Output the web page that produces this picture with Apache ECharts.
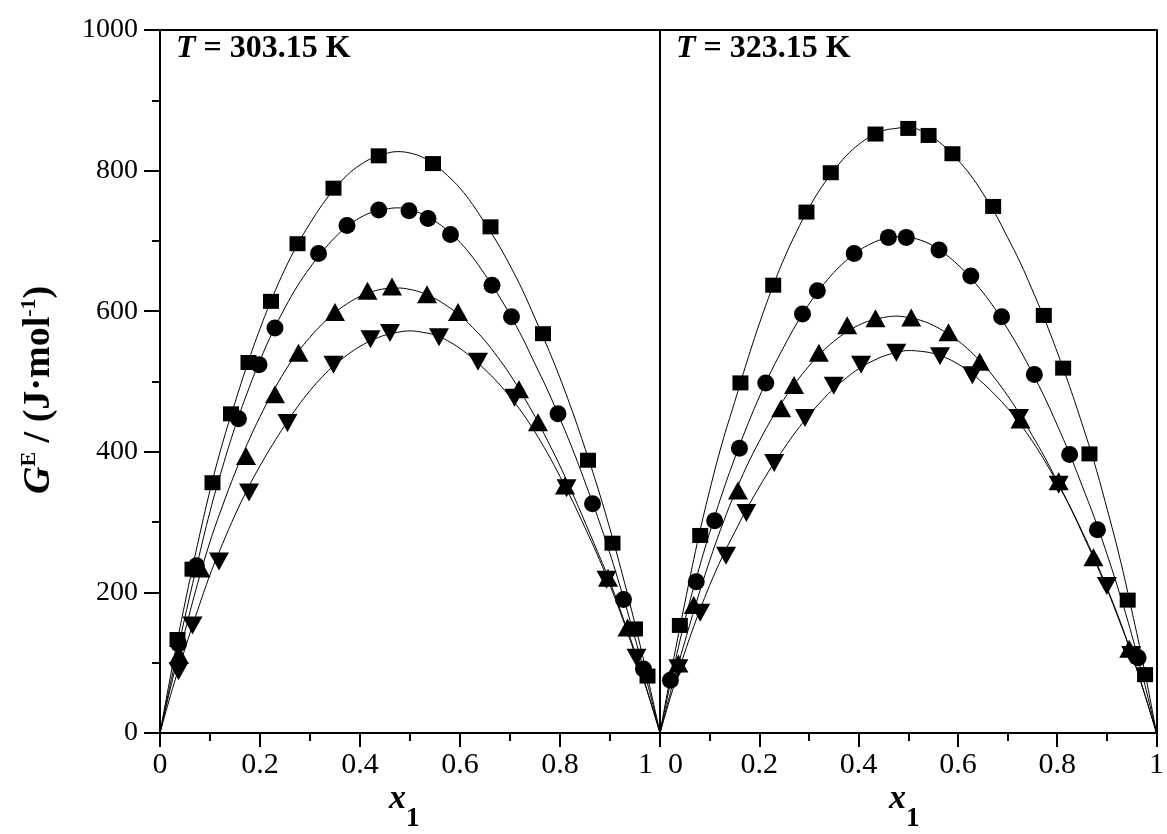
<!DOCTYPE html>
<html lang="en">
<head>
    <meta charset="UTF-8">
    <script src="https://cdn.jsdelivr.net/npm/echarts/dist/echarts.min.js"></script>
    <style>
        *{
            margin: 0;
            padding: 0;
        }
        #chart {
            width: 1167px;
            height: 834px;
            background: #fff;
        }
    </style>
</head>
<body>
<div id="chart"></div>
<script>
    var xFit = [0, 0.025, 0.05, 0.075, 0.1, 0.125, 0.15, 0.175, 0.2, 0.225,
                0.25, 0.275, 0.3, 0.325, 0.35, 0.375, 0.4, 0.425, 0.45, 0.475,
                0.5, 0.525, 0.55, 0.575, 0.6, 0.625, 0.65, 0.675, 0.7, 0.725,
                0.75, 0.775, 0.8, 0.825, 0.85, 0.875, 0.9, 0.925, 0.95, 0.975, 1];

    // T = 303.15 K, fitted curves
    var fitSq303 = [0, 96, 185, 268, 345, 412, 470, 525, 575, 620, 660, 695, 725, 752, 775, 794, 808, 818, 824, 827,
                    825, 819, 808, 793, 775, 752, 725, 697, 665, 630, 590, 549, 505, 457, 405, 350, 290, 225, 155, 80, 0];
    var fitCi303 = [0, 84, 165, 242, 315, 378, 435, 485, 530, 570, 605, 636, 662, 685, 705, 721, 733, 741, 745, 747,
                    744, 738, 728, 715, 698, 677, 652, 625, 595, 562, 525, 488, 447, 404, 357, 308, 255, 197, 135, 70, 0];
    var fitTu303 = [0, 76, 145, 212, 272, 323, 370, 412, 450, 484, 515, 541, 563, 582, 598, 611, 621, 628, 632, 633,
                    631, 626, 618, 607, 594, 577, 558, 535, 510, 481, 450, 416, 380, 341, 300, 258, 215, 166, 115, 59, 0];
    var fitTd303 = [0, 63, 120, 174, 225, 269, 310, 347, 380, 410, 438, 464, 487, 507, 524, 538, 550, 559, 566, 570,
                    572, 570, 566, 558, 547, 533, 517, 499, 478, 455, 428, 398, 365, 330, 292, 253, 210, 163, 112, 58, 0];

    // T = 303.15 K, measured points
    var sq303X = [0.035, 0.065, 0.105, 0.142, 0.177, 0.222, 0.275, 0.347, 0.4375, 0.546, 0.661, 0.766, 0.856, 0.905, 0.95, 0.975];
    var sq303Y = [133, 233, 356, 454, 527, 614, 696, 775, 821, 810, 720, 568, 388, 270, 148, 81];
    var ci303X = [0.037, 0.073, 0.157, 0.198, 0.23, 0.317, 0.374, 0.4375, 0.498, 0.536, 0.581, 0.664, 0.703, 0.796, 0.865, 0.927, 0.967];
    var ci303Y = [127, 238, 447, 524, 576, 682, 722, 744, 743, 732, 709, 637, 592, 454, 326, 190, 91];
    var tu303X = [0.038, 0.081, 0.172, 0.23, 0.277, 0.35, 0.415, 0.464, 0.534, 0.596, 0.718, 0.756, 0.81, 0.896, 0.935];
    var tu303Y = [111, 234, 394, 482, 541, 599, 629, 635, 624, 599, 489, 442, 352, 221, 150];
    var td303X = [0.037, 0.065, 0.118, 0.178, 0.255, 0.347, 0.421, 0.46, 0.558, 0.636, 0.709, 0.813, 0.893, 0.953];
    var td303Y = [88, 153, 244, 342, 441, 524, 560, 569, 563, 528, 477, 348, 218, 107];

    // T = 323.15 K, fitted curves
    var fitSq323 = [0, 96, 185, 270, 345, 412, 470, 528, 582, 631, 675, 713, 747, 776, 800, 821, 837, 849, 857, 860,
                    862, 857, 847, 833, 815, 794, 768, 739, 705, 670, 630, 588, 542, 493, 440, 384, 320, 252, 175, 92, 0];
    var fitCi323 = [0, 84, 160, 225, 285, 340, 390, 436, 478, 516, 550, 582, 610, 634, 655, 672, 686, 696, 703, 706,
                    705, 701, 693, 681, 666, 648, 627, 603, 575, 545, 512, 477, 438, 397, 352, 306, 255, 200, 140, 73, 0];
    var fitTu323 = [0, 68, 130, 190, 245, 295, 340, 380, 415, 447, 475, 500, 522, 541, 557, 570, 580, 587, 591, 593,
                    591, 587, 580, 570, 558, 543, 525, 504, 480, 453, 423, 392, 358, 323, 285, 246, 205, 160, 112, 58, 0];
    var fitTd323 = [0, 60, 115, 165, 210, 250, 285, 319, 350, 379, 405, 430, 452, 472, 490, 505, 518, 528, 536, 541,
                    544, 543, 540, 534, 525, 513, 498, 481, 462, 440, 415, 387, 356, 323, 287, 249, 207, 162, 112, 58, 0];

    // T = 323.15 K, measured points
    var sq323X = [0.04, 0.081, 0.162, 0.228, 0.295, 0.344, 0.434, 0.5, 0.541, 0.589, 0.671, 0.773, 0.812, 0.865, 0.942, 0.977];
    var sq323Y = [153, 281, 498, 637, 741, 797, 852, 860, 850, 824, 749, 594, 519, 397, 189, 83];
    var ci323X = [0.021, 0.073, 0.11, 0.16, 0.213, 0.287, 0.317, 0.391, 0.46, 0.496, 0.562, 0.626, 0.688, 0.754, 0.825, 0.881, 0.963];
    var ci323Y = [75, 215, 302, 405, 498, 596, 629, 682, 705, 705, 687, 650, 592, 510, 396, 289, 107];
    var tu323X = [0.037, 0.068, 0.157, 0.244, 0.27, 0.32, 0.377, 0.434, 0.506, 0.581, 0.644, 0.726, 0.803, 0.873, 0.945];
    var tu323Y = [99, 182, 345, 462, 495, 541, 580, 590, 591, 570, 528, 446, 358, 250, 120];
    var td323X = [0.037, 0.081, 0.133, 0.174, 0.23, 0.292, 0.35, 0.405, 0.476, 0.564, 0.629, 0.723, 0.803, 0.9, 0.949];
    var td323Y = [92, 171, 252, 313, 384, 448, 494, 524, 541, 536, 509, 448, 353, 209, 111];

    var xTicks = [0, 0.2, 0.4, 0.6, 0.8, 1];
    var yTicks = [0, 200, 400, 600, 800, 1000];

    var FONT = '"Liberation Serif", "DejaVu Serif", serif';
    var lineStyle = {color: '#000', width: 2};

    function pairs(xs, ys) {
        var out = [];
        for (var i = 0; i < xs.length; i++) {
            out.push([xs[i], ys[i]]);
        }
        return out;
    }

    // bottom x axis with ticks and labels
    function bottomX(grid) {
        return {
            type: 'value', gridIndex: grid, position: 'bottom',
            min: xTicks[0], max: xTicks[xTicks.length - 1], interval: 0.2,
            axisLine: {lineStyle: lineStyle},
            axisTick: {length: 14, lineStyle: lineStyle},
            minorTick: {show: true, splitNumber: 2, length: 8, lineStyle: lineStyle},
            axisLabel: {
                color: '#000', fontFamily: FONT, fontSize: 30, margin: 17,
                showMinLabel: true, showMaxLabel: true,
                alignMinLabel: grid == 1 ? 'left' : 'center',
                alignMaxLabel: grid == 0 ? 'right' : 'center',
                // the "1 0" pair where the panels meet is pushed apart
                formatter: function (v) {
                    if (grid == 0 && v == 1) return '{r|1}';
                    if (grid == 1 && v == 0) return '{l|0}';
                    return String(v);
                },
                rich: {
                    r: {fontFamily: FONT, fontSize: 30, color: '#000', padding: [0, 7, 0, 0]},
                    l: {fontFamily: FONT, fontSize: 30, color: '#000', padding: [0, 0, 0, 8]}
                }
            },
            splitLine: {show: false}
        };
    }
    // plain frame line
    function frame(grid, pos, isY) {
        return {
            type: 'value', gridIndex: grid, position: pos,
            min: 0, max: isY ? 1000 : 1,
            axisLine: {onZero: false, lineStyle: lineStyle},
            axisTick: {show: false},
            axisLabel: {show: false},
            splitLine: {show: false}
        };
    }

    var yLeft = {
        type: 'value', gridIndex: 0, position: 'left',
        min: yTicks[0], max: yTicks[yTicks.length - 1], interval: 200,
        axisLine: {lineStyle: lineStyle},
        axisTick: {length: 14, lineStyle: lineStyle},
        minorTick: {show: true, splitNumber: 2, length: 8, lineStyle: lineStyle},
        axisLabel: {
            color: '#000', fontFamily: FONT, fontSize: 28, margin: 22,
            formatter: function (v) { return String(v); }
        },
        splitLine: {show: false}
    };
    // ticks pointing in on the right edge of the first panel
    var yRightIn = {
        type: 'value', gridIndex: 0, position: 'right',
        min: 0, max: 1000, interval: 200,
        axisLine: {lineStyle: lineStyle},
        axisTick: {inside: true, length: 16, lineStyle: lineStyle},
        minorTick: {show: true, splitNumber: 2, length: 8, lineStyle: lineStyle},
        axisLabel: {show: false},
        splitLine: {show: false}
    };

    function fitSeries(xi, yi, ys) {
        return {
            type: 'line', xAxisIndex: xi, yAxisIndex: yi,
            data: pairs(xFit, ys), smooth: 0.4, showSymbol: false,
            lineStyle: {color: '#000', width: 1}, z: 2
        };
    }
    function pointSeries(xi, yi, xs, ys, symbol, size, rot) {
        return {
            type: 'scatter', xAxisIndex: xi, yAxisIndex: yi,
            data: pairs(xs, ys), symbol: symbol, symbolSize: size,
            symbolRotate: rot || 0,
            itemStyle: {color: '#000', opacity: 1}, z: 3
        };
    }

    var series = [
        fitSeries(0, 0, fitSq303), fitSeries(0, 0, fitCi303),
        fitSeries(0, 0, fitTu303), fitSeries(0, 0, fitTd303),
        pointSeries(0, 0, sq303X, sq303Y, 'rect', [16, 15]),
        pointSeries(0, 0, ci303X, ci303Y, 'circle', 17),
        pointSeries(0, 0, tu303X, tu303Y, 'triangle', [20, 18]),
        pointSeries(0, 0, td303X, td303Y, 'triangle', [20, 18], 180),

        fitSeries(2, 2, fitSq323), fitSeries(2, 2, fitCi323),
        fitSeries(2, 2, fitTu323), fitSeries(2, 2, fitTd323),
        pointSeries(2, 2, sq323X, sq323Y, 'rect', [16, 15]),
        pointSeries(2, 2, ci323X, ci323Y, 'circle', 17),
        pointSeries(2, 2, tu323X, tu323Y, 'triangle', [20, 18]),
        pointSeries(2, 2, td323X, td323Y, 'triangle', [20, 18], 180)
    ];

    var titleRich = {
        t: {fontFamily: FONT, fontWeight: 'bold', fontStyle: 'italic', fontSize: 32, color: '#000'},
        n: {fontFamily: FONT, fontWeight: 'bold', fontSize: 32, color: '#000'}
    };
    var xNameRich = {
        x: {fontFamily: FONT, fontWeight: 'bold', fontStyle: 'italic', fontSize: 34, color: '#000', lineHeight: 36},
        s: {fontFamily: FONT, fontWeight: 'bold', fontSize: 27, color: '#000', verticalAlign: 'bottom', lineHeight: 27, padding: [0, 0, -16, 0]}
    };
    var yNameRich = {
        g: {fontFamily: FONT, fontWeight: 'bold', fontStyle: 'italic', fontSize: 38, color: '#000', lineHeight: 42},
        n: {fontFamily: FONT, fontWeight: 'bold', fontSize: 38, color: '#000', lineHeight: 42},
        p: {fontFamily: FONT, fontWeight: 'bold', fontSize: 22, color: '#000', verticalAlign: 'top', lineHeight: 24}
    };

    var option = {
        animation: false,
        backgroundColor: '#fff',
        grid: [
            {left: 160, right: 507, top: 30, bottom: 101},
            {left: 660, right: 7, top: 30, bottom: 101}
        ],
        xAxis: [bottomX(0), frame(0, 'top', false), bottomX(1), frame(1, 'top', false)],
        yAxis: [yLeft, yRightIn, frame(1, 'left', true), frame(1, 'right', true)],
        series: series,
        graphic: [
            {type: 'text', left: 176, top: 33, style: {text: '{t|T}{n| = 303.15 K}', rich: titleRich}},
            {type: 'text', left: 676, top: 33, style: {text: '{t|T}{n| = 323.15 K}', rich: titleRich}},
            {type: 'text', left: 389, top: 782, style: {text: '{x|x}{s|1}', rich: xNameRich}},
            {type: 'text', left: 889, top: 782, style: {text: '{x|x}{s|1}', rich: xNameRich}},
            {
                type: 'text', x: 18, y: 494, rotation: Math.PI / 2,
                style: {text: '{g|G}{p|E}{n| / (J·mol}{p|-1}{n|)}', rich: yNameRich}
            }
        ]
    };

    var myChart = echarts.init(document.getElementById('chart'));
    myChart.setOption(option);
</script>
</body>
</html>
